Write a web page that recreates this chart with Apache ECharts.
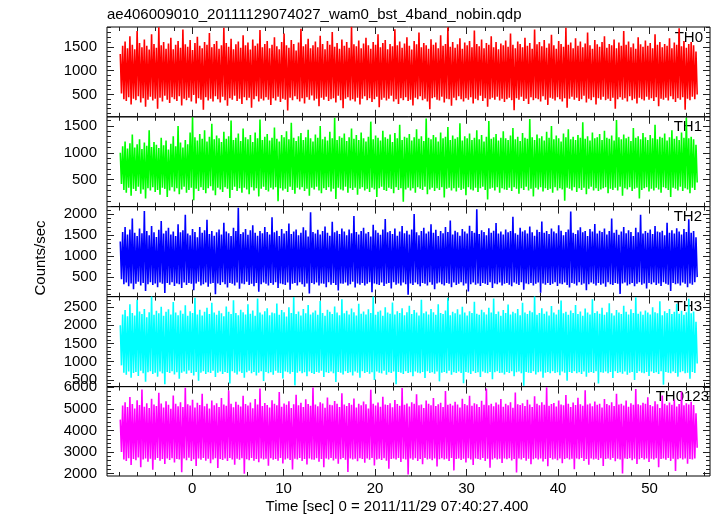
<!DOCTYPE html>
<html>
<head>
<meta charset="utf-8">
<script src="https://cdn.jsdelivr.net/npm/echarts@6/dist/echarts.min.js"></script>
<style>html,body{margin:0;padding:0;background:#fff}#c{width:717px;height:516px}</style>
</head>
<body>
<div id="c"></div>
<script>
// ---- data: successive peak / trough values ----
const timeStart = -7.85, timeEnd = 55.2;
const panelNames = ['TH0', 'TH1', 'TH2', 'TH3', 'TH0123'];
const xTickLabels = [0, 10, 20, 30, 40, 50];

const th0Hi = [1350,1520,1610,1470,1720,1540,1450,1830,1580,1490,1650,1520,1440,1760,1560,1480,1910,1530,1600,1460,
1570,1690,1450,1540,1620,1480,1860,1550,1500,1640,1430,1580,1710,1520,1470,1600,1540,1790,1490,1560,
1620,1460,1530,1900,1580,1500,1670,1450,1550,1610,1480,1740,1530,1590,1440,1650,1520,1570,1850,1490,
1560,1620,1470,1540,1700,1510,1450,1600,1780,1530,1480,1640,1560,1420,1590,1880,1510,1550,1670,1470,
1530,1610,1490,1730,1560,1450,1620,1540,1810,1500,1580,1460,1650,1520,1600,1480,1920,1550,1510,1630,
1470,1570,1690,1530,1460,1600,1540,1760,1490,1580,1640,1450,1560,1510,1870,1530,1610,1480,1570,1700,
1520,1440,1620,1550,1800,1490,1580,1530,1460,1660,1540,1590,1470,1740,1520,1560,1910,1500,1600,1480,
1550,1680,1460,1590,1530,1620,1490,1840,1560,1510,1650,1470,1580,1540,1720,1490,1600,1450,1570,1530,
1630,1500,1780,1540,1470,1610,1560,1490,1690,1520,1580,1460,1860,1550,1600,1510,1640,1480,1570,1750,
1530,1460,1620,1560,1500,1900,1540,1590,1470,1680,1520,1610,1490,1570,1800,1530,1460,1640,1550,1500,
1600,1720,1480,1560,1530,1650,1470,1590,1520,1830,1540,1610,1490,1570,1460,1700,1550,1500,1630,1520,
1580,1470,1760,1540,1600,1490,1560,1520,1680,1470,1590,1540,1890,1510,1620,1480,1560,1600,1530,1400];
const th0Lo = [520,400,360,440,290,410,380,460,330,420,240,390,450,370,410,200,430,350,470,390,
320,440,400,360,460,270,410,380,430,350,490,310,420,390,180,440,370,410,350,460,
400,330,450,380,260,420,390,470,360,410,300,440,380,430,220,400,460,350,410,370,
440,390,280,420,370,450,340,410,390,160,430,380,460,400,350,420,310,440,390,480,
370,410,250,430,390,450,360,400,420,330,470,380,210,410,440,370,400,350,430,290,
410,460,380,420,340,400,450,230,390,430,370,410,470,350,400,300,420,380,440,360,
390,270,430,400,460,380,410,350,190,420,440,390,370,450,330,410,400,260,430,380,
460,400,350,420,390,440,310,410,380,470,360,420,240,400,430,390,450,370,410,340,
400,430,380,170,420,390,450,360,410,300,440,380,420,400,350,460,390,280,430,410,
370,440,400,350,420,220,410,450,390,430,360,400,470,330,410,380,440,290,420,390,
450,380,410,360,430,200,400,440,390,420,350,460,380,410,310,430,400,370,450,390,
420,360,440,250,410,390,430,370,460,400,340,420,390,440,180,410,380,450,400,500];

const th1Hi = [1000,1120,1210,1080,1180,1340,1100,1160,1250,1070,1190,1130,1420,1110,1200,1150,1090,1280,1140,1230,
1060,1170,1310,1120,1500,1190,1100,1240,1160,1380,1660,1290,1230,1350,1260,1420,1210,1300,1540,1250,
1320,1270,1200,1390,1260,1310,1600,1240,1280,1360,1220,1450,1290,1250,1330,1200,1380,1270,1620,1240,
1300,1350,1230,1280,1470,1260,1210,1330,1290,1400,1250,1560,1280,1220,1310,1370,1240,1290,1430,1270,
1210,1340,1280,1500,1250,1300,1230,1390,1270,1650,1240,1310,1280,1360,1220,1290,1450,1260,1330,1240,
1380,1270,1210,1300,1580,1250,1320,1280,1230,1410,1290,1260,1340,1200,1370,1270,1520,1240,1300,1280,
1350,1230,1290,1440,1260,1310,1220,1640,1280,1250,1330,1290,1210,1380,1270,1300,1480,1240,1320,1260,
1290,1550,1230,1310,1270,1360,1240,1280,1420,1250,1330,1210,1300,1590,1260,1290,1350,1230,1280,1400,
1270,1240,1320,1460,1250,1300,1220,1370,1280,1260,1630,1290,1240,1340,1270,1310,1230,1390,1280,1500,
1250,1320,1270,1210,1360,1290,1440,1250,1300,1240,1330,1280,1570,1260,1310,1230,1380,1270,1290,1350,
1240,1410,1280,1260,1320,1230,1610,1290,1250,1340,1270,1300,1220,1460,1280,1310,1250,1370,1290,1240,
1330,1270,1520,1250,1300,1280,1360,1230,1290,1420,1260,1310,1240,1380,1280,1650,1270,1300,1250,1150];
const th1Lo = [420,310,260,350,200,330,290,370,240,320,150,340,300,360,270,310,220,350,330,180,
300,360,280,340,230,320,370,260,310,350,120,330,290,360,310,250,340,380,300,210,
350,320,270,360,330,160,310,370,290,340,260,350,320,230,360,300,340,190,330,370,
310,280,350,320,360,100,340,300,330,270,370,310,240,350,320,360,290,330,200,350,
320,370,300,250,340,310,360,280,330,140,350,320,300,370,260,340,310,350,220,330,
360,300,330,270,350,320,180,340,370,310,290,350,330,250,360,310,340,90,320,350,
300,340,260,360,330,310,370,230,320,350,290,340,310,360,170,330,350,300,340,280,
350,310,330,210,360,320,300,350,270,340,370,310,130,330,350,300,360,260,340,320,
310,350,290,360,330,240,340,310,370,300,330,190,350,320,360,280,340,310,330,260,
360,300,340,320,110,350,330,300,360,270,340,310,350,230,330,370,300,340,290,320,
340,360,250,330,310,350,300,370,200,340,320,360,290,330,350,150,310,340,360,280,
330,300,350,320,260,360,340,310,180,350,330,300,370,290,340,320,250,350,310,450];

const th2Hi = [1350,1580,1700,1520,1640,1900,1560,1480,1660,1550,2080,1600,1500,1720,1570,1460,1630,1840,1540,1610,
1680,1520,1590,1480,1760,1570,1620,1990,1540,1500,1650,1580,1450,1700,1560,1620,1870,1530,1600,1490,
1570,1640,1520,1800,1590,1550,1480,1680,1600,2160,1530,1570,1650,1510,1620,1740,1560,1490,1600,1550,
1700,1580,1520,1930,1570,1610,1480,1650,1540,1600,1780,1530,1590,1640,1500,1560,1690,1620,1470,2050,
1580,1540,1630,1520,1600,1710,1560,1490,1820,1570,1610,1530,1660,1590,1500,1640,1550,1960,1580,1520,
1600,1680,1540,1580,1470,1750,1620,1560,1510,1640,1890,1570,1600,1530,1660,1490,1590,1720,1550,1610,
1520,1640,2010,1570,1500,1600,1680,1540,1590,1760,1560,1630,1480,1600,1550,1700,1580,1850,1520,1610,
1570,1490,1650,1590,1540,1730,1600,1560,2120,1530,1620,1580,1500,1670,1560,1610,1790,1540,1590,1520,
1640,1570,1600,1940,1550,1510,1680,1590,1620,1540,1710,1570,1490,1630,1580,1830,1560,1600,1530,1660,
1590,1550,1740,1610,1500,1580,1640,2070,1560,1530,1620,1690,1570,1600,1480,1650,1590,1770,1540,1610,
1580,1660,1520,1600,1900,1560,1630,1510,1590,1700,1550,1620,1580,1480,1680,1570,1990,1540,1600,1560,
1640,1530,1720,1590,1570,1610,1500,1800,1560,1620,1540,1670,1590,1520,1650,1580,1880,1560,1600,1450];
const th2Lo = [450,330,370,280,350,210,340,390,300,360,170,330,380,310,350,260,370,340,120,360,
320,380,290,350,330,240,370,310,360,340,190,350,390,300,330,370,270,340,360,90,
350,310,380,330,250,360,340,300,370,220,350,330,390,310,340,280,360,150,330,370,
340,300,360,320,380,240,350,330,310,370,200,340,360,300,380,330,270,350,110,360,
330,370,300,350,340,260,380,320,360,310,180,350,340,370,300,330,390,250,350,320,
360,300,340,380,140,350,330,310,370,290,340,360,230,380,320,350,300,370,330,80,
350,310,370,330,280,360,340,300,380,320,210,350,370,330,300,360,340,260,370,310,
340,380,300,350,160,330,370,320,350,290,360,340,310,380,240,350,330,370,300,340,
360,320,280,370,340,310,380,200,350,330,360,300,340,370,130,350,320,360,310,340,
380,290,350,330,370,310,250,360,340,300,380,320,350,190,330,370,340,300,360,320,
350,270,380,330,310,360,340,100,350,370,300,330,360,280,340,380,320,350,230,360,
330,370,310,350,290,380,340,320,170,360,330,350,300,370,340,260,350,320,380,500];

const th3Hi = [2000,2300,2420,2250,2580,2340,2270,2700,2380,2310,2450,2220,2360,2790,2290,2400,2330,2510,2260,2370,
2440,2300,2640,2350,2280,2410,2320,2550,2260,2390,2340,2760,2300,2430,2270,2370,2480,2310,2620,2350,
2290,2400,2330,2250,2520,2370,2310,2690,2340,2280,2430,2360,2300,2580,2320,2410,2260,2740,2350,2300,
2390,2470,2280,2350,2330,2600,2290,2420,2360,2240,2500,2340,2780,2310,2380,2270,2450,2330,2560,2300,
2350,2410,2290,2670,2340,2260,2430,2370,2310,2520,2350,2280,2720,2330,2400,2300,2460,2360,2270,2590,
2320,2380,2300,2440,2340,2790,2290,2370,2410,2260,2500,2350,2320,2630,2300,2390,2340,2470,2280,2360,
2540,2310,2420,2350,2270,2700,2330,2380,2300,2450,2360,2290,2580,2340,2310,2410,2760,2280,2370,2330,
2440,2300,2510,2350,2270,2390,2340,2650,2320,2290,2430,2360,2300,2480,2350,2740,2310,2380,2260,2420,
2340,2570,2300,2370,2330,2450,2280,2620,2350,2310,2400,2360,2790,2290,2340,2470,2320,2380,2270,2530,
2350,2300,2430,2680,2330,2370,2290,2410,2340,2560,2310,2380,2260,2460,2350,2300,2720,2340,2390,2320,
2480,2290,2360,2610,2330,2270,2420,2350,2310,2540,2370,2300,2440,2340,2770,2320,2380,2290,2410,2350,
2300,2500,2360,2330,2660,2280,2390,2340,2450,2310,2370,2590,2320,2400,2290,2360,2730,2330,2380,2100];
const th3Lo = [900,700,640,730,560,690,720,610,750,680,450,710,740,660,700,590,730,680,380,720,
690,740,650,710,530,700,730,670,760,690,620,720,480,700,740,660,710,690,750,580,
700,730,660,720,690,400,740,700,650,730,690,560,710,750,680,720,620,700,740,470,
720,680,710,640,750,700,690,540,730,710,670,720,350,700,740,680,710,600,730,690,
660,720,700,750,580,710,690,730,680,440,720,700,650,740,690,710,620,730,700,560,
740,690,720,670,710,500,730,700,680,750,640,710,690,730,380,720,700,660,740,690,
710,600,730,700,680,720,550,740,690,710,670,730,460,700,720,680,750,640,710,690,
730,690,410,720,700,660,740,690,710,580,730,700,680,720,520,710,740,690,700,650,
720,690,740,600,710,730,680,340,720,700,690,740,650,710,730,560,700,720,680,740,
690,710,630,730,700,480,720,690,740,680,710,660,730,590,700,720,690,740,400,710,
700,730,680,720,550,740,690,710,670,730,640,700,720,500,690,740,700,680,720,610,
730,690,710,660,740,370,720,700,680,730,690,590,710,740,680,700,530,720,690,950];

const th0123Hi = [4500,5150,5300,5080,5550,5220,5010,5400,5180,5900,5100,5260,5040,5470,5200,5130,5750,5250,5060,5350,
5190,5000,5620,5240,5120,5310,5080,5980,5210,5150,5420,5060,5280,5180,5700,5120,5230,5020,5380,5170,
5260,5090,5500,5200,5140,5850,5240,5070,5330,5190,5110,5600,5220,5150,5290,5030,5450,5200,5940,5130,
5270,5180,5060,5400,5230,5160,5780,5100,5250,5190,5350,5040,5210,5650,5170,5280,5080,5440,5220,5140,
5990,5200,5120,5310,5250,5050,5520,5190,5160,5360,5230,5080,5720,5200,5130,5270,5190,5480,5060,5240,
5170,5340,5210,5020,5880,5230,5150,5290,5100,5560,5200,5180,5260,5070,5410,5220,5140,5960,5190,5250,
5110,5300,5230,5680,5160,5200,5040,5380,5240,5170,5500,5130,5210,5280,5090,5820,5190,5230,5150,5330,
5200,5060,5470,5220,5170,5600,5140,5260,5210,5080,5370,5190,5940,5160,5240,5120,5290,5200,5450,5100,
5230,5170,5310,5050,5760,5210,5180,5260,5130,5420,5200,5090,5580,5240,5160,5300,5190,6000,5140,5220,
5270,5110,5390,5200,5160,5640,5230,5080,5290,5180,5510,5210,5140,5860,5200,5250,5120,5340,5190,5230,
5060,5460,5220,5170,5300,5130,5700,5200,5240,5150,5380,5100,5260,5190,5920,5210,5160,5280,5230,5540,
5180,5120,5350,5210,5040,5620,5240,5170,5290,5190,5430,5110,5220,5800,5160,5260,5200,5330,5180,4800];
const th0123Lo = [3000,2650,2580,2710,2400,2680,2620,2750,2300,2660,2700,2550,2690,2180,2640,2720,2600,2680,2450,2700,
2630,2710,2520,2680,2650,2060,2700,2620,2740,2590,2670,2350,2700,2640,2720,2600,2690,2480,2650,2710,
2260,2680,2630,2700,2580,2720,2660,2410,2690,2640,2710,2000,2670,2620,2730,2600,2680,2530,2700,2650,
2690,2360,2710,2640,2680,2600,2720,2470,2660,2700,2630,2190,2690,2650,2720,2590,2680,2420,2700,2660,
2640,2710,2550,2680,2300,2700,2650,2720,2610,2690,2460,2670,2730,2640,2080,2700,2660,2690,2570,2710,
2680,2500,2700,2640,2720,2380,2660,2690,2630,2710,2600,2230,2680,2700,2650,2720,2540,2690,2660,1960,
2700,2640,2710,2590,2680,2440,2720,2660,2690,2620,2700,2330,2670,2710,2650,2690,2580,2720,2150,2680,
2700,2630,2690,2520,2710,2660,2400,2700,2680,2640,2720,2590,2690,2270,2660,2710,2650,2690,2490,2700,
2670,2710,2610,2680,2050,2700,2660,2720,2600,2690,2430,2670,2710,2650,2700,2560,2680,2340,2720,2660,
2690,2620,2700,2480,2680,2710,2650,2690,2200,2700,2670,2720,2590,2680,2410,2700,2660,2690,2630,2710,
2350,2680,2700,2640,2720,2570,2690,2660,2010,2700,2680,2710,2620,2690,2450,2670,2720,2650,2700,2540,
2690,2660,2710,2300,2680,2700,2640,2720,2590,2690,2120,2670,2710,2660,2700,2460,2680,2650,2700,3200];

const th0Ticks = [500, 1000, 1500];
const th1Ticks = [500, 1000, 1500];
const th2Ticks = [500, 1000, 1500, 2000];
const th3Ticks = [500, 1000, 1500, 2000, 2500];
const th0123Ticks = [2000, 3000, 4000, 5000, 6000];

// ---- layout / style ----
const FONT = 'Liberation Sans, Arial, Helvetica, sans-serif';
const panels = [
  {hi: th0Hi, lo: th0Lo, color: '#ff0000', ymin: 30, ymax: 1915, ticks: th0Ticks, minorStep: 100, labelRight: 703},
  {hi: th1Hi, lo: th1Lo, color: '#00ff00', ymin: 0, ymax: 1670, ticks: th1Ticks, minorStep: 100, labelRight: 702},
  {hi: th2Hi, lo: th2Lo, color: '#0000ff', ymin: 35, ymax: 2185, ticks: th2Ticks, minorStep: 100, labelRight: 702},
  {hi: th3Hi, lo: th3Lo, color: '#00ffff', ymin: 316, ymax: 2790, ticks: th3Ticks, minorStep: 100, labelRight: 702},
  {hi: th0123Hi, lo: th0123Lo, color: '#ff00ff', ymin: 1890, ymax: 6030, ticks: th0123Ticks, minorStep: 200, labelRight: 709}
];
const tops = [27, 116.8, 206.6, 296.6, 386.6];
const heights = [89.8, 89.8, 90, 90, 89.4];
const xMin = -9.3, xMax = 56.6;

function minorList(min, max, step, majors) {
  const out = [];
  for (let v = Math.ceil(min / step) * step; v <= max; v += step) {
    if (majors.indexOf(v) < 0) out.push(v);
  }
  return out;
}
const xMinor = minorList(xMin, xMax, 2, xTickLabels);

function series2pts(hi, lo) {
  const n = hi.length * 2;
  const dt = (timeEnd - timeStart) / (n - 1);
  const out = [];
  for (let i = 0; i < hi.length; i++) {
    out.push([timeStart + (2 * i) * dt, hi[i]]);
    out.push([timeStart + (2 * i + 1) * dt, lo[i]]);
  }
  return out;
}

const grid = [], xAxis = [], yAxis = [], series = [], graphic = [];
const tickColor = '#222';
const plain = v => String(v);
panels.forEach((p, i) => {
  grid.push({left: 107, width: 603, top: tops[i], height: heights[i], show: true,
    borderColor: '#000', borderWidth: 1, backgroundColor: 'transparent'});
  const yMinor = minorList(p.ymin, p.ymax, p.minorStep, p.ticks);
  const mkX = (pos, vals, len, label) => ({
    gridIndex: i, type: 'value', min: xMin, max: xMax, position: pos,
    axisLine: {show: false, onZero: false}, splitLine: {show: false},
    axisTick: {show: true, inside: true, length: len, customValues: vals, lineStyle: {color: tickColor, width: 1}},
    axisLabel: label ? {show: true, customValues: xTickLabels, formatter: plain, fontSize: 15, color: '#000', fontFamily: FONT, margin: 5} : {show: false}
  });
  xAxis.push(mkX('bottom', xTickLabels, 7, i === 4));
  xAxis.push(mkX('bottom', xMinor, 4, false));
  xAxis.push(mkX('top', xTickLabels, 7, false));
  xAxis.push(mkX('top', xMinor, 4, false));
  const mkY = (pos, vals, len, label) => ({
    gridIndex: i, type: 'value', min: p.ymin, max: p.ymax, position: pos,
    axisLine: {show: false, onZero: false}, splitLine: {show: false},
    axisTick: {show: true, inside: true, length: len, customValues: vals, lineStyle: {color: tickColor, width: 1}},
    axisLabel: label ? {show: true, customValues: p.ticks, formatter: plain, fontSize: 15, color: '#000', fontFamily: FONT, margin: 10} : {show: false}
  });
  yAxis.push(mkY('left', p.ticks, 7, true));
  yAxis.push(mkY('left', yMinor, 4, false));
  yAxis.push(mkY('right', p.ticks, 7, false));
  yAxis.push(mkY('right', yMinor, 4, false));
  series.push({
    type: 'line', xAxisIndex: i * 4, yAxisIndex: i * 4,
    data: series2pts(p.hi, p.lo), showSymbol: false, symbol: 'none',
    lineStyle: {color: p.color, width: 1.6, join: 'miter'}, itemStyle: {color: p.color},
    animation: false, silent: true, z: 1
  });
  graphic.push({type: 'text', x: p.labelRight, y: tops[i] + 10.5,
    style: {text: panelNames[i], font: '15px ' + FONT, fill: '#000', textAlign: 'right', textVerticalAlign: 'middle'}});
});

graphic.push({type: 'text', x: 107, y: 14.5,
  style: {text: 'ae406009010_20111129074027_wam0_bst_4band_nobin.qdp', font: '15px ' + FONT, fill: '#000', textAlign: 'left', textVerticalAlign: 'middle'}});
graphic.push({type: 'text', x: 397, y: 506.5,
  style: {text: 'Time [sec] 0 = 2011/11/29 07:40:27.400', font: '15px ' + FONT, fill: '#000', textAlign: 'center', textVerticalAlign: 'middle'}});
graphic.push({type: 'text', x: 41, y: 258, rotation: Math.PI / 2,
  style: {text: 'Counts/sec', font: '15px ' + FONT, fill: '#000', textAlign: 'center', textVerticalAlign: 'middle'}});

const chart = echarts.init(document.getElementById('c'), null, {renderer: 'canvas'});
chart.setOption({animation: false, backgroundColor: '#fff', grid, xAxis, yAxis, series, graphic});
</script>
</body>
</html>
